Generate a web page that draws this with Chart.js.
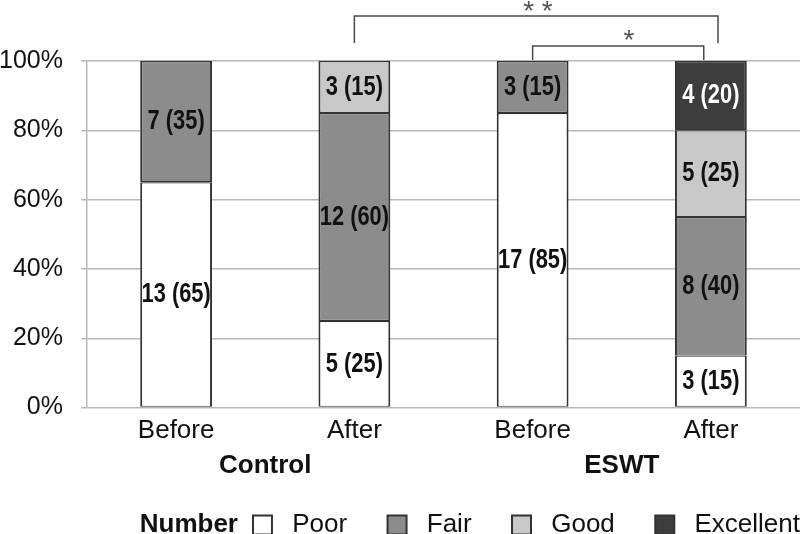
<!DOCTYPE html>
<html>
<head>
<meta charset="utf-8">
<script src="https://cdn.jsdelivr.net/npm/chart.js@4.4.1/dist/chart.umd.min.js"></script>
<style>
  html, body { margin: 0; padding: 0; background: #ffffff; }
  #wrap { width: 800px; height: 534px; position: relative; }
</style>
</head>
<body>
<div id="wrap"><canvas id="c" width="800" height="534"></canvas></div>
<script>
// ---- data ----
const categories = ['Before', 'After', 'Before', 'After'];
const groups = ['Control', 'ESWT'];
const seriesNames = ['Poor', 'Fair', 'Good', 'Excellent'];
// number of patients per grade
const poorCount = [13, 5, 17, 3];
const fairCount = [7, 12, 3, 8];
const goodCount = [null, 3, null, 5];
const excellentCount = [null, null, null, 4];
// percentages (stack heights)
const poorPct = [65, 25, 85, 15];
const fairPct = [35, 60, 15, 40];
const goodPct = [null, 15, null, 25];
const excellentPct = [null, null, null, 20];
// y axis ticks
const yTickValues = [0, 20, 40, 60, 80, 100];
// significance brackets: from/to category index, bar level (%), leg end (%)
const brackets = [
  { from: 1, to: 3.04, level: 113.0, legEnd: 105.2, label: '* *', labelAt: 2.03, labelLevel: 116.5 },
  { from: 2, to: 2.96, level: 104.35, legEnd: 100.3, label: '*', labelAt: 2.54, labelLevel: 108.1 }
];
const legendTitle = 'Number';

// ---- styles ----
const FONT = "'Liberation Sans', Arial, Helvetica, sans-serif";
const fills = ['#ffffff', '#8c8c8c', '#c8c8c8', '#3d3d3d'];
const labelColors = ['#111111', '#111111', '#111111', '#ffffff'];
const counts = [poorCount, fairCount, goodCount, excellentCount];
const pcts = [poorPct, fairPct, goodPct, excellentPct];

const datasets = seriesNames.map((name, i) => ({
  label: name,
  data: pcts[i],
  counts: counts[i],
  backgroundColor: fills[i],
  borderColor: '#333333',
  borderWidth: { top: 1.2, bottom: 1.2, left: 2, right: 2 },
  borderSkipped: false,
  categoryPercentage: 1.0,
  barPercentage: 0.403
}));

const valueLabels = {
  id: 'valueLabels',
  afterDatasetsDraw(chart) {
    const ctx = chart.ctx;
    chart.data.datasets.forEach((ds, di) => {
      const meta = chart.getDatasetMeta(di);
      meta.data.forEach((el, i) => {
        const v = ds.data[i];
        if (v === null || v === undefined) return;
        const p = el.getProps(['x', 'y', 'base'], true);
        ctx.save();
        ctx.font = "bold 28px " + FONT;
        ctx.textAlign = 'center';
        ctx.textBaseline = 'middle';
        ctx.fillStyle = labelColors[di];
        ctx.translate(p.x, (p.y + p.base) / 2);
        ctx.scale(0.78, 1);
        ctx.fillText(ds.counts[i] + ' (' + v + ')', 0, 0);
        ctx.restore();
      });
    });
  }
};

const sigBrackets = {
  id: 'sigBrackets',
  afterDraw(chart) {
    const ctx = chart.ctx;
    const xs = chart.scales.x, ys = chart.scales.y;
    ctx.save();
    ctx.strokeStyle = '#4a4a4a';
    ctx.lineWidth = 1.5;
    brackets.forEach(b => {
      const x1 = xs.getPixelForValue(b.from), x2 = xs.getPixelForValue(b.to);
      const yl = ys.getPixelForValue(b.level), ye = ys.getPixelForValue(b.legEnd);
      ctx.beginPath();
      ctx.moveTo(x1, ye); ctx.lineTo(x1, yl); ctx.lineTo(x2, yl); ctx.lineTo(x2, ye);
      ctx.stroke();
      ctx.fillStyle = '#555555';
      ctx.font = "28px " + FONT;
      ctx.textAlign = 'center';
      ctx.textBaseline = 'alphabetic';
      ctx.fillText(b.label, xs.getPixelForValue(b.labelAt), ys.getPixelForValue(b.labelLevel) + 16);
    });
    ctx.restore();
  }
};

const legendLead = {
  id: 'legendLead',
  afterDraw(chart) {
    const lg = chart.legend;
    if (!lg || !lg.legendHitBoxes || !lg.legendHitBoxes.length) return;
    const hb = lg.legendHitBoxes[0];
    const ctx = chart.ctx;
    ctx.save();
    ctx.font = "bold 26px " + FONT;
    ctx.fillStyle = '#111111';
    ctx.textAlign = 'right';
    ctx.textBaseline = 'middle';
    ctx.fillText(legendTitle, hb.left - 15, hb.top + hb.height / 2);
    ctx.restore();
  }
};

const GAP = '\u2002 \u2002 ';

new Chart(document.getElementById('c'), {
  type: 'bar',
  data: { labels: categories, datasets },
  options: {
    responsive: false,
    animation: false,
    devicePixelRatio: 1,
    layout: { padding: { top: 61, right: 0, bottom: 0, left: 0 } },
    plugins: {
      tooltip: { enabled: false },
      legend: {
        position: 'bottom',
        align: 'end',
        maxHeight: 22,
        labels: {
          padding: 0,
          boxWidth: 19,
          boxHeight: 19,
          color: '#111111',
          font: { family: FONT, size: 26 },
          generateLabels(chart) {
            const items = Chart.defaults.plugins.legend.labels.generateLabels(chart);
            return items.map((it, i) => Object.assign({}, it, {
              text: ' ' + it.text + (i < items.length - 1 ? GAP : ''),
              lineWidth: 2,
              strokeStyle: '#333333'
            }));
          }
        }
      }
    },
    scales: {
      x: {
        stacked: true,
        position: 'bottom',
        grid: { display: false, drawTicks: false },
        border: { display: false },
        ticks: { padding: 8, color: '#111111', font: { family: FONT, size: 26 } },
        afterFit(scale) { scale.height -= 10; }
      },
      x2: {
        type: 'category',
        labels: groups,
        position: 'bottom',
        offset: true,
        grid: { display: false, drawTicks: false },
        border: { display: false },
        ticks: { padding: 5, color: '#111111', font: { family: FONT, size: 26, weight: 'bold' } },
        afterFit(scale) { scale.height += 26; }
      },
      y: {
        stacked: true,
        min: 0,
        max: 100,
        afterFit(scale) { scale.width = 87; },
        afterBuildTicks(scale) { scale.ticks = yTickValues.map(v => ({ value: v })); },
        grid: { color: '#b8b8b8', lineWidth: 1.5, tickLength: 6, drawTicks: true },
        border: { display: true, color: '#b8b8b8', width: 1.5 },
        ticks: {
          padding: 18,
          color: '#111111',
          font: { family: FONT, size: 25 },
          callback: v => v + '%'
        }
      }
    }
  },
  plugins: [valueLabels, sigBrackets, legendLead]
});
</script>
</body>
</html>
